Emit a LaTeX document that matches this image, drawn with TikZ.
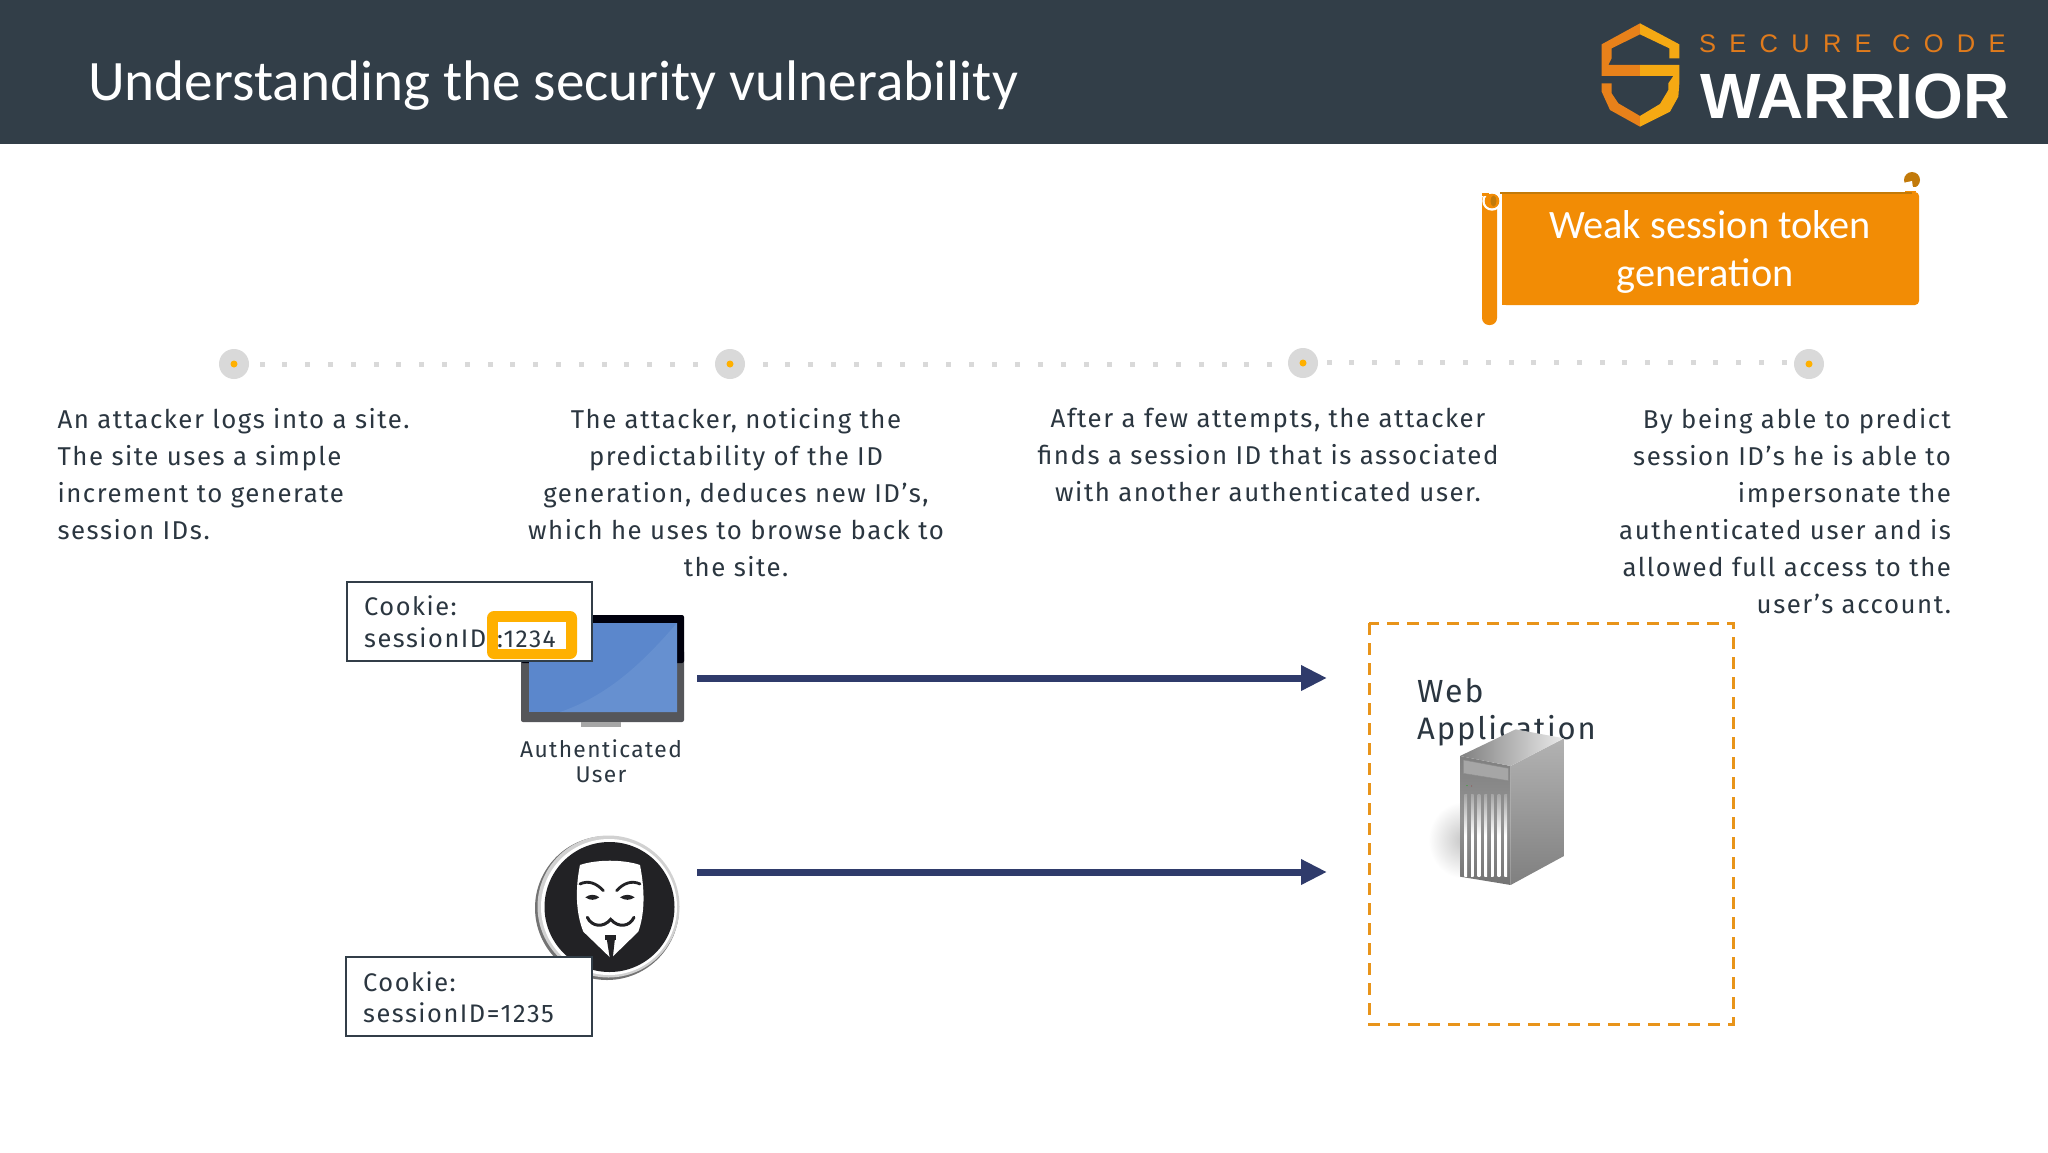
\documentclass[tikz,border=0pt]{standalone}
\usepackage{fontspec}
\usetikzlibrary{arrows.meta,shapes.geometric}
\setmainfont{Fira Sans}
\newfontfamily\bodyf[LetterSpace=6]{Fira Sans}
\newfontfamily\titlef{Carlito}
\newfontfamily\banf{Carlito}
\newfontfamily\logoa[LetterSpace=52]{Liberation Sans}
\newfontfamily\logob{Liberation Sans Bold}
\definecolor{hdr}{HTML}{323E48}
\definecolor{ink}{HTML}{2B3640}
\definecolor{ban}{HTML}{F28C05}
\definecolor{bandk}{HTML}{C27A0A}
\definecolor{dashc}{HTML}{E8941A}
\definecolor{arrowc}{HTML}{2F3B6B}
\definecolor{dotg}{HTML}{D9D9D9}
\definecolor{hi}{HTML}{FFB000}
\definecolor{logol}{HTML}{E8811A}
\definecolor{logor}{HTML}{F5A913}
\definecolor{logot}{HTML}{E07B1C}
\definecolor{scrA}{HTML}{5B87CC}
\definecolor{scrB}{HTML}{6690D0}
\definecolor{bez}{HTML}{55565A}
\definecolor{disc}{HTML}{222225}
\tikzset{
  body/.style={font=\bodyf\fontsize{25.8}{37}\selectfont,text=ink,inner sep=0pt,outer sep=0pt},
  cookie/.style={draw=hdr,line width=2.5pt,fill=white},
  cookietext/.style={font=\bodyf\fontsize{25.4}{32}\selectfont,text=ink,inner sep=0pt,anchor=base west},
  flow/.style={arrowc,line width=7pt,-{Triangle[length=26pt,width=24pt]}},
  masklines/.style={disc,line cap=round},
}
\begin{document}
\begin{tikzpicture}[x=1pt,y=-1pt]
\useasboundingbox (0,0) rectangle (2048,1152);
\fill[white] (0,0) rectangle (2048,1152);
\fill[hdr] (0,0) rectangle (2048,144);
\node[anchor=base west,inner sep=0pt,text=white,font=\titlef\fontsize{57.2}{64}\selectfont] (title) at (88,100) {Understanding the security vulnerability};
% logo
\begin{scope}[shift={(1560,0)},x=0.3333pt,y=-0.3333pt]
\fill[logol] (240,70)--(125,133)--(125,228)--(240,228)--(240,195)--(145,195)--(155,175)--(155,145)--(240,103)--cycle;
\fill[logol] (125,250)--(125,275)--(150,330)--(240,380)--(240,348)--(175,310)--(155,280)--(155,250)--cycle;
\fill[logor] (240,70)--(358,133)--(358,175)--(328,175)--(328,145)--(240,103)--cycle;
\fill[logor] (240,195)--(358,195)--(358,250)--(355,290)--(330,335)--(240,380)--(240,348)--(300,312)--(325,270)--(325,250)--(340,228)--(240,228)--cycle;
\end{scope}
\node[anchor=base west,inner sep=0pt,text=logot,font=\logoa\fontsize{25.5}{25}\selectfont] (secure) at (1699,52) {SECURE CODE};
\node[anchor=base west,inner sep=0pt,text=white,font=\logob\fontsize{64}{64}\selectfont] (warrior) at (1700,118) {WARRIOR};
% banner
\fill[ban,rounded corners=4pt] (1502,192) -- (1919,192) -- (1919,305) -- (1502,305) -- cycle;
\fill[ban] (1502,192) rectangle (1510,305);
\fill[bandk] (1500,192) rectangle (1912,194);
\fill[ban,rounded corners=7pt] (1482,193) rectangle (1497,325);
\fill[ban] (1492,201) circle (9);
\draw[white,line width=2.4pt] (1492,201) circle (8.5);
\fill[ban] (1492,201) circle (7.3);
\fill[bandk] (1493.5,201) ellipse (3 and 5.5);
\fill[ban] (1482,193) rectangle (1489,196);
\draw[white,line width=2.5pt] (1499.5,209) -- (1499.5,325);
\fill[bandk] (1912,180) circle (8);
\fill[white] (1903,183) -- (1912,181) -- (1913,188) -- (1903,188) -- cycle;
\fill[white] (1905,187) rectangle (1920,190.5);
\fill[ban] (1905,190.5) rectangle (1916,192);
\node[inner sep=0pt,text=white,font=\banf\fontsize{40.3}{48}\selectfont,anchor=base] (ban1) at (1710,238) {Weak session token};
\node[inner sep=0pt,text=white,font=\banf\fontsize{40.3}{48}\selectfont,anchor=base] (ban2) at (1705,286) {generation};
% timeline
\foreach \x in {0,...,19} \fill[dotg] ({262+\x*22.8-2.5},362) rectangle +(5,5);
\foreach \x in {0,...,22} \fill[dotg] ({765+\x*22.95-2.5},362) rectangle +(5,5);
\foreach \x in {0,...,20} \fill[dotg] ({1329+\x*22.75-2.5},360) rectangle +(5,5);
\foreach \px/\py/\n in {234/364/d1,730/364/d2,1303/363/d3,1809/364/d4}{
  \node[circle,fill=dotg,minimum size=30pt,inner sep=0pt] (\n) at (\px,\py) {};
  \fill[hi] (\n.center) circle (3.5);
}
% texts
\node[body,anchor=north west,align=left] (t1) at (57.5,408) {An attacker logs into a site.\\The site uses a simple\\increment to generate\\session IDs.};
\node[body,anchor=north,align=center] (t2) at (736,408) {The attacker, noticing the\\predictability of the ID\\generation, deduces new ID’s,\\which he uses to browse back to\\the site.};
\node[body,anchor=north,align=center] (t3) at (1268,408) {After a few attempts, the attacker\\finds a session ID that is associated\\with another authenticated user.};
\node[body,anchor=north east,align=right] (t4) at (1951,408) {By being able to predict\\session ID’s he is able to\\impersonate the\\authenticated user and is\\allowed full access to the\\user’s account.};
% monitor
\fill[bez,rounded corners=2pt] (521,650) rectangle (684,722);
\fill[black!95!blue,rounded corners=2pt] (521,615) rectangle (684,663);
\fill[black!35] (581,722) rectangle (621,727);
\fill[scrA] (529,623) rectangle (677,712);
\fill[scrB] (677,623)--(677,712)--(560,712) .. controls (610,695) and (645,660) .. cycle;
\node[inner sep=0pt,text=ink,font=\bodyf\fontsize{22.8}{25}\selectfont,anchor=base] (lab1) at (601,757) {Authenticated};
\node[inner sep=0pt,text=ink,font=\bodyf\fontsize{22.8}{25}\selectfont,anchor=base] (lab2) at (601,782) {User};
% cookie 1
\draw[cookie] (347,582) rectangle (592,661);
\node[cookietext] (c1a) at (364,615) {Cookie:};
\node[cookietext] (c1b) at (364,647) {sessionID};
\fill[hi,rounded corners=7pt] (487,611) rectangle (577,659);
\fill[white] (498,622) rectangle (566,649);
\node[cookietext,font=\bodyf\fontsize{24.5}{32}\selectfont] (c1c) at (497,647) {:1234};
% avatar
\fill[black!55] (607,908) circle (72);
\fill[black!18] (608.5,906.5) circle (71);
\fill[white] (609,907) circle (68);
\fill[disc] (609.5,907) circle (65);
\begin{scope}[shift={(330,570)},x=0.3333pt,y=-0.3333pt]
\fill[white] (750,885) .. controls (800,868) and (880,868) .. (930,885)
  .. controls (945,960) and (945,1030) .. (925,1085) -- (843,1165) -- (760,1085)
  .. controls (738,1030) and (735,960) .. (750,885) -- cycle;
\fill[disc] (826,1095) rectangle (858,1110);
\fill[disc] (830,1105)--(855,1105)--(848,1168)--(840,1168)--cycle;
\draw[masklines,line width=2.8pt] (750,942) .. controls (775,930) and (800,940) .. (820,962);
\draw[masklines,line width=2.8pt] (930,942) .. controls (905,930) and (880,940) .. (860,962);
\fill[disc] (766,982) .. controls (780,972) and (795,972) .. (808,982) .. controls (795,992) and (780,992) .. cycle;
\fill[disc] (870,982) .. controls (885,972) and (900,972) .. (914,982) .. controls (900,992) and (885,992) .. cycle;
\draw[masklines,line width=3pt] (772,1042) .. controls (785,1070) and (820,1075) .. (842,1048) .. controls (865,1075) and (900,1070) .. (912,1042);
\end{scope}
% cookie 2
\draw[cookie] (346,957) rectangle (592,1036);
\node[cookietext] (c2a) at (363,991) {Cookie:};
\node[cookietext] (c2b) at (363,1022) {sessionID=1235};
% web app box
\draw[dashc,line width=3pt,dash pattern=on 12pt off 8pt] (1369,623) rectangle (1733,1024);
\node[inner sep=0pt,text=ink,font=\bodyf\fontsize{32}{37}\selectfont,anchor=base west] (web1) at (1417,702) {Web};
\node[inner sep=0pt,text=ink,font=\bodyf\fontsize{31}{37}\selectfont,anchor=base west] (web2) at (1417,739) {Application};
% server
\begin{scope}[shift={(1340,610)},x=0.3333pt,y=-0.3333pt]
\shade[inner color=black!22,outer color=white] (370,690) ellipse (105 and 115);
\shade[top color=black!50,bottom color=black!55,middle color=black!42] (360,438)--(512,468)--(512,825)--(360,800)--cycle;
\shade[top color=black!30,bottom color=black!50] (512,468)--(672,385)--(672,738)--(512,825)--cycle;
\shade[left color=black!50,right color=black!8] (360,438)--(527,358)--(672,385)--(512,468)--cycle;
\fill[black!35,draw=black!45] (370,450)--(505,475)--(505,512)--(370,490)--cycle;
\fill[green!70!black] (381,527) circle (1.7);
\fill[red!60!black] (395,528) circle (1.2);
\foreach \vx in {373,393,413,433,453,473,493}
  \shade[top color=black!35,bottom color=white,middle color=white] (\vx,553) rectangle (\vx+8,800);
\end{scope}
% arrows
\coordinate (a1s) at (697,678);
\coordinate (a1e) at (1327,678);
\coordinate (a2s) at (697,872);
\coordinate (a2e) at (1327,872);
\draw[flow] (a1s) -- (a1e);
\draw[flow] (a2s) -- (a2e);
\end{tikzpicture}
\end{document}
